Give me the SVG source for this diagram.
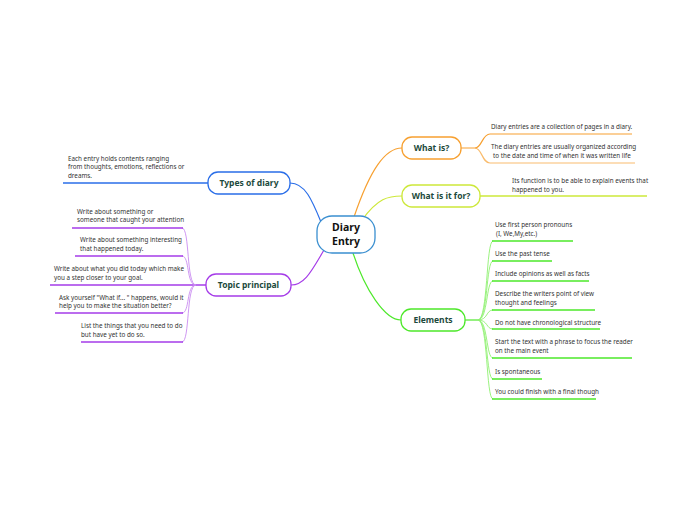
<svg xmlns="http://www.w3.org/2000/svg" width="697" height="520" viewBox="0 0 697 520">
<style>
text{font-family:"Noto Sans","Open Sans",sans-serif;fill:#333}
.l{font-size:6.3px}
.n{font-size:8.5px;font-weight:bold;fill:#1d4a3c;text-anchor:middle}
.c{font-size:10.5px;font-weight:bold;fill:#111;text-anchor:middle}
.nd{fill:#fff;stroke-width:1.3}
path{fill:none}
</style>
<rect width="697" height="520" fill="#fff"/>
<g id="connectors" stroke-width="1.2">
<g stroke="#f7a030"><path d="M354 217 C370 170 385 148 402 148"/><path d="M461 148 H475 C482 148 482 134 490 134 H632"/><path d="M475 148 C482 148 482 163 490 163 H635" stroke-opacity=".7"/></g>
<g stroke="#cde83a"><path d="M362 220 C378 198 388 196 402 196"/><path d="M480 196 H647" stroke-width="1.5"/></g>
<g stroke="#2a6ee8"><path d="M321 222 C312 200 305 183 290 183"/><path d="M208 183 H63" stroke-width="1.5"/></g>
<g stroke="#a53be8"><path d="M324 250 C312 270 305 285 291 285"/><path d="M206 285 H50" stroke-width="1.5"/>
<g stroke="#c98cf0" stroke-width=".9"><path d="M196 285 C186 285 190 228 182 228"/><path d="M196 285 C186 285 190 256 182 256"/><path d="M196 285 C186 285 190 313 182 313"/><path d="M196 285 C186 285 190 342 182 342"/></g>
<g stroke="#a53be8" stroke-width="1.5"><path d="M183 228 H72"/><path d="M183 256 H75"/><path d="M183 313 H55"/><path d="M183 342 H81"/></g></g>
<g stroke="#4de82a"><path d="M353 253 C365 290 385 320 401 320"/><path d="M465 320 H478"/>
<g stroke="#8ef070" stroke-width=".9"><path d="M478 320 C488 320 486 241 493 241"/><path d="M478 320 C488 320 486 261 493 261"/><path d="M478 320 C488 320 486 281 493 281"/><path d="M478 320 C488 320 486 310 493 310"/><path d="M478 320 C488 320 486 329 493 329"/><path d="M478 320 C488 320 486 358 493 358"/><path d="M478 320 C488 320 486 379 493 379"/><path d="M478 320 C488 320 486 399 493 399"/></g>
<g stroke="#4de82a" stroke-width="1.5"><path d="M492 241 H573"/><path d="M492 261 H552"/><path d="M492 281 H589"/><path d="M492 310 H595"/><path d="M492 329 H600"/><path d="M492 358 H632"/><path d="M492 379 H542"/><path d="M492 399 H596"/></g></g>
</g>
<g id="center"><rect class="nd" x="317" y="216" width="58" height="37" rx="15" stroke="#3a8fd0"/><text class="c" x="346" y="231">Diary</text><text class="c" x="346" y="245">Entry</text></g>
<g id="what-is"><rect class="nd" x="402" y="137" width="59" height="22" rx="10" stroke="#f7a030"/><text class="n" x="431.5" y="151">What is?</text>
<text class="l" x="491" y="129">Diary entries are a collection of pages in a diary.</text>
<text class="l" x="491" y="149">The diary entries are usually organized according</text><text class="l" x="493" y="158">to the date  and time of when it was written life</text></g>
<g id="what-for"><rect class="nd" x="402" y="185" width="78" height="22" rx="10" stroke="#cde83a"/><text class="n" x="441" y="199">What is it for?</text>
<text class="l" x="512" y="183">Its function is to be able to explain events that</text><text class="l" x="512" y="192">happened to you.</text></g>
<g id="types"><rect class="nd" x="208" y="172" width="82" height="22" rx="10" stroke="#2a6ee8"/><text class="n" x="249" y="186">Types of diary</text>
<text class="l" x="68" y="161">Each entry holds contents ranging</text><text class="l" x="68" y="169">from thoughts, emotions, reflections or</text><text class="l" x="68" y="178">dreams.</text></g>
<g id="topic"><rect class="nd" x="206" y="274" width="85" height="22" rx="10" stroke="#a53be8"/><text class="n" x="248.5" y="288">Topic principal</text>
<text class="l" x="77" y="214">Write about something or</text><text class="l" x="77" y="222">someone that caught your attention</text>
<text class="l" x="80" y="242">Write about something interesting</text><text class="l" x="80" y="251">that happened today.</text>
<text class="l" x="54" y="271">Write about what you did today which make</text><text class="l" x="54" y="280">you a step closer to your goal.</text>
<text class="l" x="59" y="300">Ask yourself "What if... " happens, would it</text><text class="l" x="59" y="308">help you to make the situation better?</text>
<text class="l" x="81" y="328">List the things that you need to do</text><text class="l" x="81" y="337">but have yet to do so.</text></g>
<g id="elements"><rect class="nd" x="401" y="309" width="64" height="22" rx="10" stroke="#4de82a"/><text class="n" x="433" y="323">Elements</text>
<text class="l" x="495" y="227">Use first person pronouns</text><text class="l" x="496" y="236">(I, We,My,etc.)</text>
<text class="l" x="495" y="256">Use the past tense</text>
<text class="l" x="495" y="276">Include opinions as well as facts</text>
<text class="l" x="495" y="296">Describe the  writers point of view</text><text class="l" x="495" y="305">thought and  feelings</text>
<text class="l" x="495" y="325">Do not have  chronological structure</text>
<text class="l" x="495" y="344">Start the text with a phrase to focus the  reader</text><text class="l" x="495" y="353">on the main event</text>
<text class="l" x="495" y="374">Is spontaneous</text>
<text class="l" x="495" y="394">You could finish with a final though</text></g>
</svg>
